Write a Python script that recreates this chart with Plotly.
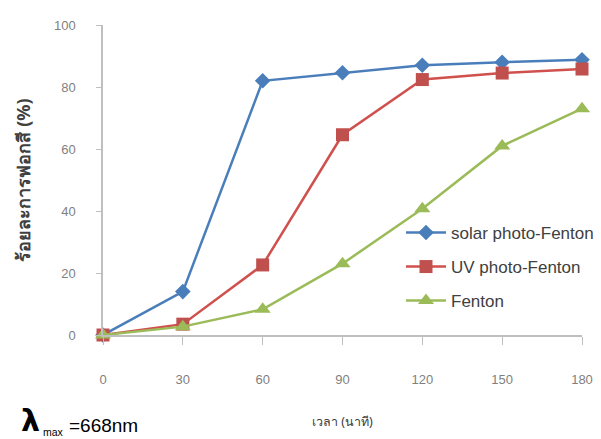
import plotly.graph_objects as go

time_min = [0, 30, 60, 90, 120, 150, 180]
solar_photo_fenton = [0, 14, 82, 84.6, 87, 88, 88.8]
uv_photo_fenton = [0, 3.5, 22.6, 64.6, 82.4, 84.5, 85.8]
fenton = [0, 2.7, 8.3, 23, 40.7, 61, 73]
series_names = ["solar photo-Fenton", "UV photo-Fenton", "Fenton"]
x_ticks = [0, 30, 60, 90, 120, 150, 180]
y_ticks = [0, 20, 40, 60, 80, 100]

# page has an 8px body margin; work in figure pixels
W, H = 593, 431
L, R, T, B = 95, 19, 17, 104
PW, PH = W - L - R, H - T - B


def px(page_x):
    return (page_x - 8 - L) / PW


def py(page_y):
    return (H - B - (page_y - 8)) / PH


fig = go.Figure()
fig.add_trace(go.Scatter(x=time_min, y=solar_photo_fenton, name=series_names[0],
                         mode="lines+markers", cliponaxis=False, legend="legend",
                         line=dict(color="#4A7EBB", width=2.5),
                         marker=dict(symbol="diamond", size=12, color="#4A7EBB")))
fig.add_trace(go.Scatter(x=time_min, y=uv_photo_fenton, name=series_names[1],
                         mode="lines+markers", cliponaxis=False, legend="legend2",
                         line=dict(color="#D0504D", width=2.5),
                         marker=dict(symbol="square", size=13, color="#C0504D")))
fig.add_trace(go.Scatter(x=time_min, y=fenton, name=series_names[2],
                         mode="lines+markers", cliponaxis=False, legend="legend3",
                         line=dict(color="#9BBB59", width=2.5),
                         marker=dict(symbol="triangle-up", size=14, color="#9BBB59")))

leg_common = dict(xanchor="left", yanchor="middle",
                  font=dict(size=17, color="#404040", family="Liberation Sans, Arial, sans-serif"),
                  bgcolor="rgba(0,0,0,0)", itemwidth=40, borderwidth=0)

fig.update_layout(
    width=W, height=H,
    margin=dict(l=L, r=R, t=T, b=B, autoexpand=False),
    paper_bgcolor="white", plot_bgcolor="white",
    font=dict(family="Liberation Sans, Arial, sans-serif", color="#595959"),
    showlegend=True,
    legend=dict(x=px(401), y=py(233), **leg_common),
    legend2=dict(x=px(401), y=py(267), **leg_common),
    legend3=dict(x=px(401), y=py(301), **leg_common),
    xaxis=dict(range=[0, 180], tickvals=x_ticks, showgrid=False, zeroline=False,
               showline=True, linecolor="#BFBFBF", linewidth=1.5, automargin=False,
               ticks="outside", ticklen=8, tickcolor="#BFBFBF",
               tickfont=dict(size=13, color="#7F7F7F"), ticklabelstandoff=24,
               title=dict(text="เวลา (นาที)", font=dict(size=12.5, color="#404040",
                          family="Noto Sans, sans-serif"), standoff=31)),
    yaxis=dict(range=[0, 100], tickvals=y_ticks, showgrid=False, zeroline=False,
               showline=True, linecolor="#BFBFBF", linewidth=1.5, automargin=False,
               ticks="outside", ticklen=5, tickcolor="#BFBFBF",
               tickfont=dict(size=13, color="#7F7F7F"), ticklabelstandoff=18,
               title=dict(text="<b>ร้อยละการฟอกสี (%)</b>",
                          font=dict(size=18, color="#404040", family="Noto Sans, sans-serif"),
                          standoff=19)),
)

fig.add_annotation(x=px(19), y=py(420), xref="paper", yref="paper", showarrow=False,
                   text="<b>λ</b>", xanchor="left", yanchor="middle",
                   font=dict(size=30, color="black", family="DejaVu Sans, sans-serif"))
fig.add_annotation(x=px(41), y=py(432), xref="paper", yref="paper", showarrow=False,
                   text="max", xanchor="left", yanchor="middle",
                   font=dict(size=10.5, color="black", family="Liberation Sans, Arial"))
fig.add_annotation(x=px(67), y=py(425), xref="paper", yref="paper", showarrow=False,
                   text="=668nm", xanchor="left", yanchor="middle",
                   font=dict(size=19, color="black", family="Liberation Sans, Arial"))

fig.write_html("out.html")
